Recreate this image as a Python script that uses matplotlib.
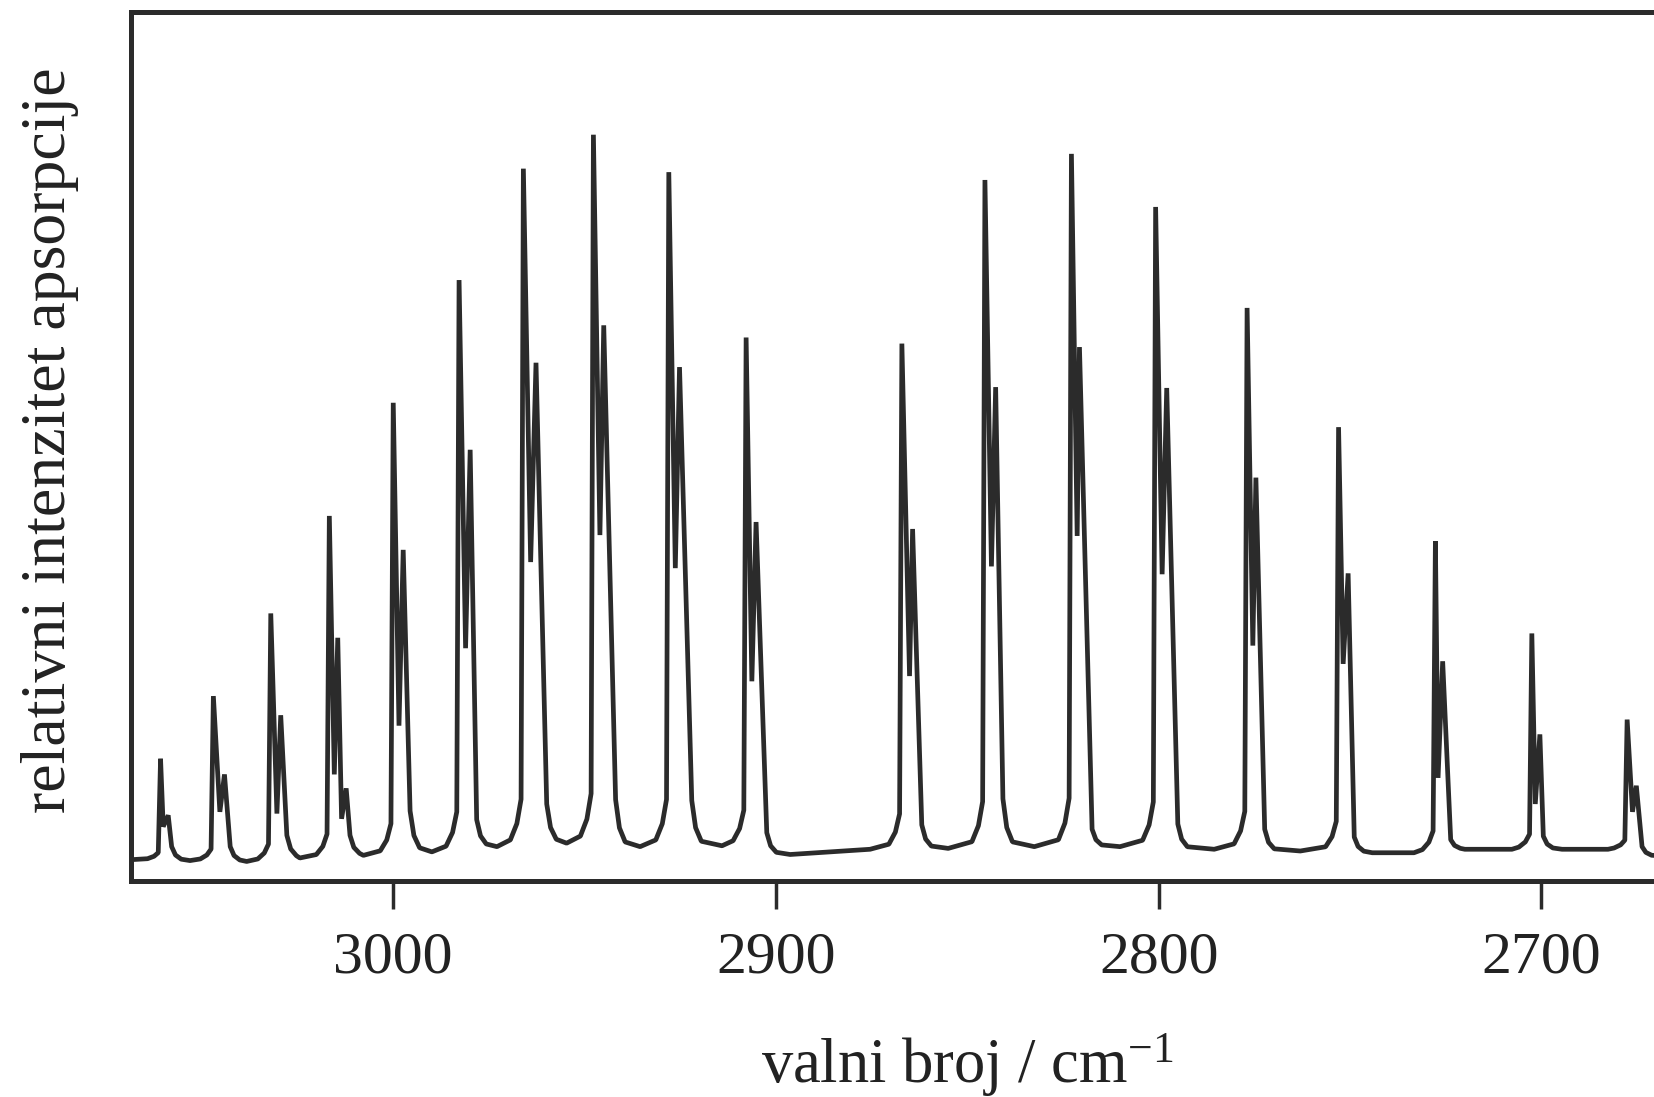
import numpy as np
import matplotlib
matplotlib.use("Agg")
import matplotlib.pyplot as plt

# ---------------- data ----------------
# rotational lines of the HCl fundamental band, R9 ... R0, P1 ... P9
line_names = ["R9", "R8", "R7", "R6", "R5", "R4", "R3", "R2", "R1", "R0",
              "P1", "P2", "P3", "P4", "P5", "P6", "P7", "P8", "P9"]
# main (H35Cl) peak: wavenumber / cm-1 and relative intensity (% of plot height)
main_wn = [3060.8, 3047.0, 3032.0, 3016.7, 3000.0, 2982.8, 2966.0, 2947.7, 2928.0, 2907.8,
           2867.1, 2845.4, 2822.8, 2800.8, 2776.9, 2753.0, 2727.7, 2702.5, 2677.6]
main_int = [14.0, 21.2, 30.7, 41.9, 54.9, 69.0, 81.8, 85.7, 81.4, 62.4,
            61.7, 80.5, 83.5, 77.4, 65.8, 52.1, 39.0, 28.4, 18.5]
# minimum between the two isotope peaks
dip_wn = [3060.1, 3045.3, 3030.4, 3015.4, 2998.5, 2981.1, 2964.1, 2946.0, 2926.3, 2906.3,
          2865.1, 2843.7, 2821.3, 2799.1, 2775.4, 2751.8, 2727.0, 2701.6, 2676.2]
dip_int = [6.2, 7.9, 7.7, 12.2, 17.8, 26.7, 36.6, 39.7, 35.9, 22.9,
           23.5, 36.1, 39.6, 35.2, 27.0, 24.9, 11.8, 8.8, 7.9]
# isotope (H37Cl) peak
iso_wn = [3058.8, 3044.1, 3029.4, 3014.5, 2997.4, 2979.9, 2962.7, 2945.0, 2925.2, 2905.2,
          2864.3, 2842.6, 2820.7, 2797.9, 2774.6, 2750.5, 2725.8, 2700.4, 2675.2]
iso_int = [7.5, 12.2, 19.0, 27.9, 38.0, 49.5, 59.5, 63.8, 59.0, 41.2,
           40.4, 56.7, 61.3, 56.6, 46.3, 35.3, 25.2, 16.8, 10.9]
# small extra shoulder on the R6 line
shoulder_line = "R6"
shoulder_wn = [3013.5, 3012.3]
shoulder_int = [7.1, 10.6]
# end of the steep fall after each line
tail_wn = [3057.9, 3042.6, 3027.8, 3011.3, 2995.6, 2978.2, 2959.9, 2941.9, 2922.0, 2902.4,
           2861.9, 2840.7, 2817.4, 2795.0, 2772.3, 2748.9, 2723.7, 2699.5, 2673.7]
tail_int = [3.9, 3.9, 5.2, 5.2, 8.0, 7.0, 8.8, 9.3, 9.2, 5.5,
            6.4, 9.4, 5.9, 6.5, 5.9, 5.0, 4.7, 5.1, 3.9]
# baseline points between the lines
valley_wn = [3068.6, 3053.1, 3038.3, 3024.4, 3007.8, 2989.9, 2972.9, 2954.7, 2935.5, 2914.1,
             2896.3, 2875.4, 2855.0, 2832.5, 2810.1, 2785.5, 2763.0, 2744.2, 2733.3, 2720.0,
             2707.7, 2694.6, 2682.6, 2667.0]
valley_int = [2.4, 2.3, 2.2, 2.6, 2.9, 3.3, 3.9, 4.3, 3.9, 4.0,
              3.0, 3.6, 3.7, 3.9, 3.9, 3.6, 3.4, 3.2, 3.2, 3.6,
              3.6, 3.6, 3.6, 2.8]

tick_values = [3000, 2900, 2800, 2700]
tick_labels = ["3000", "2900", "2800", "2700"]
x_label = r"valni broj / cm$^{\mathrm{-1}}$"
y_label = "relativni intenzitet apsorpcije"

# ---------------- style ----------------
plt.rcParams["font.family"] = ["Liberation Serif", "DejaVu Serif"]
plt.rcParams["mathtext.fontset"] = "custom"
plt.rcParams["mathtext.rm"] = "Liberation Serif"
plt.rcParams["mathtext.it"] = "Liberation Serif:italic"
plt.rcParams["mathtext.bf"] = "Liberation Serif:bold"

INK = "#2b2b2b"


def spectrum_vertices():
    vwn = np.array(valley_wn)
    vint = np.array(valley_int)
    pts = list(zip(valley_wn, valley_int))
    for g, name in enumerate(line_names):
        m, H = main_wn[g], main_int[g]
        lb = vint[vwn > m][-1]
        h = H - lb
        # rounded foot on the rising side
        pts += [(m + 3.4, lb + 0.01 * h), (m + 1.7, lb + 0.034 * h), (m + 0.6, lb + 0.07 * h)]
        pts += [(m, H), (dip_wn[g], dip_int[g]), (iso_wn[g], iso_int[g])]
        if name == shoulder_line:
            pts += list(zip(shoulder_wn, shoulder_int))
        t, T = tail_wn[g], tail_int[g]
        rb = vint[vwn < t][0]
        pts += [(t, T), (t - 1.0, rb + 0.4 * (T - rb)), (t - 2.5, rb + 0.1 * (T - rb))]
    pts.sort(key=lambda p: -p[0])
    return np.array([p[0] for p in pts]), np.array([p[1] for p in pts])


W, H = 1654, 1097
fig = plt.figure(figsize=(W / 100, H / 100), dpi=100)
left_px, right_px, top_px, bottom_px = 130.7, 1670.0, 12.0, 880.6
ax = fig.add_axes([left_px / W, 1 - bottom_px / H,
                   (right_px - left_px) / W, (bottom_px - top_px) / H])

x, y = spectrum_vertices()
ax.plot(x, y, color=INK, lw=3.4, solid_joinstyle="bevel", solid_capstyle="butt")

ax.set_xlim(3068.6, 2666.4)
ax.set_ylim(0, 99.8)
ax.set_xticks(tick_values)
ax.set_xticklabels(tick_labels)
ax.set_yticks([])
ax.tick_params(axis="x", direction="out", length=20, width=2.5, color=INK,
               labelsize=43, pad=17, labelcolor="#222222")
for sp in ax.spines.values():
    sp.set_linewidth(3.6)
    sp.set_color(INK)

fig.text(967 / W, 14 / H, x_label, ha="center", va="baseline",
         fontsize=45, color="#222222")
fig.text(50 / W, 1 - 440 / H, y_label, ha="center", va="center", rotation=90,
         fontsize=46, color="#222222")

fig.savefig("out.png", dpi=100, facecolor="white")
